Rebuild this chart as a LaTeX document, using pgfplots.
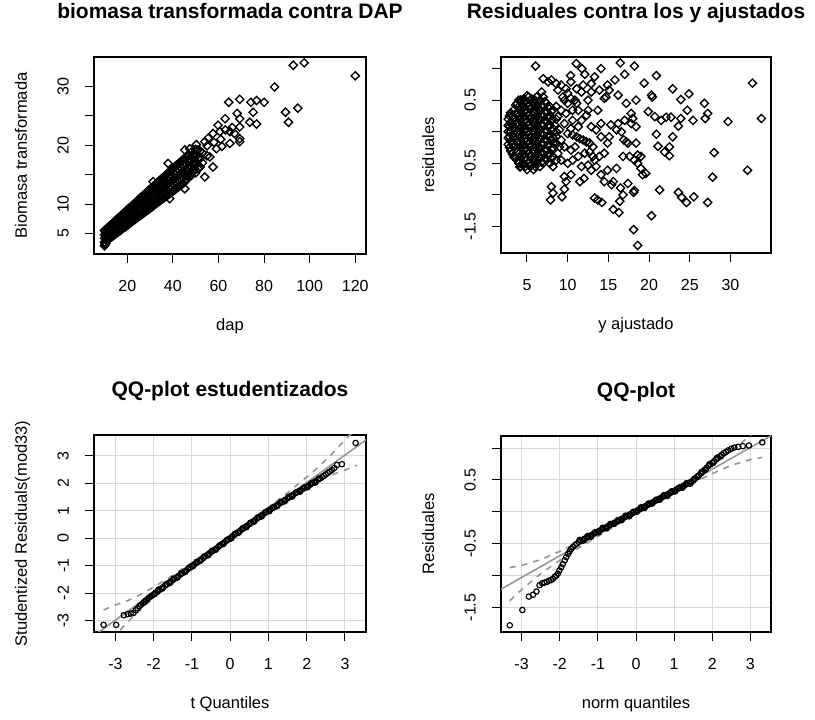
\documentclass[border=0pt]{standalone}
\usepackage{pgfplots}
\pgfplotsset{compat=1.18}
\usepackage{fontspec}
\setmainfont{Liberation Sans}
\definecolor{qqline}{RGB}{150,150,150}
\definecolor{qqgrid}{RGB}{215,215,215}
\pgfplotsset{
  rbase/.style={
    scale only axis,
    axis line style={line width=1.1pt},
    tick align=outside,
    major tick length=9pt,
    tick style={line width=1pt, black},
    xtick pos=bottom, ytick pos=left,
    tick label style={font=\fontsize{16}{18}\selectfont, inner sep=0pt},
    yticklabel style={rotate=90, anchor=south},
    xticklabel style={anchor=north},
    xticklabel shift=17pt,
    yticklabel shift=16pt,
    label style={font=\fontsize{16.5}{19}\selectfont},
    title style={font=\bfseries\fontsize{21}{24}\selectfont, at={([yshift=32pt]axis description cs:0.5,1)}, anchor=base},
    xlabel style={at={([yshift=-77pt]axis description cs:0.5,0)}, anchor=base},
    ylabel style={at={([xshift=-67pt]axis description cs:0,0.5)}, anchor=base},
  },
  dia/.style={only marks, mark=square, mark size=2.9pt, black, mark options={rotate=45, line width=1.35pt}},
  circ/.style={only marks, mark=o, mark size=2.7pt, black, mark options={line width=1.15pt}},
  qqgridstyle/.style={grid=major, grid style={line width=1pt, qqgrid}},
}
\begin{document}
\begin{tikzpicture}
\useasboundingbox (0pt,0pt) rectangle (815pt,720pt);
% ---------------- Panel 1
\begin{axis}[rbase, at={(94pt,466pt)}, anchor=south west, width=272pt, height=197pt,
  xmin=5.4, xmax=124.7, ymin=1.5, ymax=35.0,
  xtick={20,40,60,80,100,120}, xticklabels={20,40,60,80,100,120},
  ytick={5,10,15,20,25,30}, yticklabels={5,10,{},20,{},30},
  title={biomasa transformada contra DAP}, xlabel={dap}, ylabel={Biomasa transformada}]
\addplot[dia] coordinates {
(10,2.9)(10.3,3.1)(10,3.5)(10,4.2)(10,4.8)(10,5.5)
(10.5,3.3)(10.5,3.9)(10.5,4.6)(10.5,5.3)
(11,3.8)(11,4.5)(11,5.1)(11,5.8)
(11.5,3.9)(11.5,4.7)(11.5,5.4)(11.5,6.0)
(12,4.1)(12,4.8)(12,5.5)(12,6.2)
(12.5,4.3)(12.5,5.0)(12.5,5.6)(12.5,6.3)
(13,4.4)(13,5.1)(13,5.8)(13,6.5)
(13.5,4.5)(13.5,5.3)(13.5,6.0)(13.5,6.7)
(14,4.7)(14,5.4)(14,6.1)(14,6.9)
(14.5,4.8)(14.5,5.6)(14.5,6.3)(14.5,7.0)
(15,5.0)(15,5.7)(15,6.5)(15,7.2)
(15.5,5.1)(15.5,5.9)(15.5,6.6)(15.5,7.4)
(16,5.2)(16,6.0)(16,6.8)(16,7.6)
(16.5,5.4)(16.5,6.2)(16.5,7.0)(16.5,7.7)
(17,5.5)(17,6.3)(17,7.1)(17,7.9)
(17.5,5.7)(17.5,6.5)(17.5,7.3)(17.5,8.1)
(18,5.8)(18,6.6)(18,7.5)(18,8.3)
(18.5,6.0)(18.5,6.8)(18.5,7.6)(18.5,8.4)
(19,6.1)(19,6.9)(19,7.8)(19,8.6)
(19.5,6.2)(19.5,7.1)(19.5,7.9)(19.5,8.8)
(20,6.4)(20,7.3)(20,8.1)(20,9.0)
(20.5,6.55)(20.5,7.20)(20.5,7.86)(20.5,8.52)(20.5,9.18)
(21,6.7)(21,7.6)(21,8.5)(21,9.3)
(21.5,6.84)(21.5,7.51)(21.5,8.18)(21.5,8.85)(21.5,9.53)
(22,7.0)(22,7.9)(22,8.8)(22,9.7)
(22.5,7.2)(22.5,8.1)(22.5,9.0)(22.5,9.9)
(23,7.3)(23,8.2)(23,9.1)(23,10.0)
(23.5,7.4)(23.5,8.3)(23.5,9.3)(23.5,10.2)
(24,7.6)(24,8.5)(24,9.5)(24,10.4)
(24.5,7.71)(24.5,8.42)(24.5,9.14)(24.5,9.86)(24.5,10.58)
(25,7.9)(25,8.8)(25,9.8)(25,10.8)
(25.5,8.0)(25.5,8.73)(25.5,9.46)(25.5,10.19)(25.5,10.93)
(26,8.1)(26,9.1)(26,10.1)(26,11.1)
(26.5,8.29)(26.5,9.03)(26.5,9.78)(26.5,10.53)(26.5,11.28)
(27,8.4)(27,9.4)(27,10.4)(27,11.5)
(27.5,8.58)(27.5,9.34)(27.5,10.1)(27.5,10.86)(27.5,11.63)
(28,8.7)(28,9.7)(28,10.8)(28,11.8)
(28.5,8.87)(28.5,9.64)(28.5,10.42)(28.5,11.2)(28.5,11.98)
(29,9.0)(29,10.0)(29,11.1)(29,12.2)
(29.5,9.16)(29.5,9.95)(29.5,10.74)(29.5,11.53)(29.5,12.33)
(30,9.3)(30,10.4)(30,11.4)(30,12.5)
(30.5,9.45)(30.5,10.25)(30.5,11.06)(30.5,11.87)(30.5,12.68)
(31,9.6)(31,10.7)(31,11.8)(31,12.9)(31.3,13.8)
(31.5,9.74)(31.5,10.56)(31.5,11.38)(31.5,12.2)(31.5,13.03)
(32,9.9)(32,11.0)(32,12.1)(32,13.2)
(32.5,10.03)(32.5,10.86)(32.5,11.7)(32.5,12.54)(32.5,13.38)
(33,10.2)(33,11.3)(33,12.4)(33,13.6)
(33.5,10.32)(33.5,11.17)(33.5,12.02)(33.5,12.87)(33.5,13.73)
(34,10.5)(34,11.6)(34,12.8)(34,13.9)
(34.5,10.61)(34.5,11.47)(34.5,12.34)(34.5,13.21)(34.5,14.08)
(35,10.8)(35,11.9)(35,13.1)(35,14.3)
(35.5,10.9)(35.5,11.78)(35.5,12.66)(35.5,13.54)(35.5,14.43)
(36,11.0)(36,12.2)(36,13.4)(36,14.6)
(36.5,11.19)(36.5,12.08)(36.5,12.98)(36.5,13.88)(36.5,14.78)
(37,11.3)(37,12.5)(37,13.7)(37,14.9)
(37.5,11.48)(37.5,12.39)(37.5,13.3)(37.5,14.21)(37.5,15.13)
(38,11.6)(38,12.8)(38,14.1)(38,15.3)(37.9,16.9)(38.6,10.9)
(38.5,11.77)(38.5,12.69)(38.5,13.62)(38.5,14.55)(38.5,15.48)
(39,11.9)(39,13.2)(39,14.4)(39,15.6)
(39.5,12.06)(39.5,13.0)(39.5,13.94)(39.5,14.88)(39.5,15.83)
(40,12.2)(40,13.5)(40,14.7)(40,16.0)
(40.5,12.35)(40.5,13.3)(40.5,14.26)(40.5,15.22)(40.5,16.18)
(41,12.5)(41,13.8)(41,15.1)(41,16.4)
(41.5,12.64)(41.5,13.61)(41.5,14.58)(41.5,15.55)(41.5,16.53)
(42,12.8)(42,14.1)(42,15.4)(42,16.7)
(42.5,12.93)(42.5,13.91)(42.5,14.9)(42.5,15.89)(42.5,16.88)
(43,13.1)(43,14.4)(43,15.7)(43,17.0)
(43.5,13.2)(43.5,14.2)(43.5,15.2)(43.5,16.2)(43.5,17.2)
(44,13.4)(44,14.7)(44,16.0)(44,17.4)
(44.5,13.5)(44.5,14.5)(44.5,15.5)(44.5,16.5)(44.5,17.5)
(45,13.8)(45,15.1)(45,16.4)(45,17.7)(45.2,12.6)(45.2,19.2)
(45.5,13.9)(45.5,14.9)(45.5,15.9)(45.5,16.9)(45.5,17.9)
(46,14.2)(46,15.5)(46,16.8)(46,18.1)
(46.5,14.9)(46.5,16.2)(46.5,17.5)
(47,14.6)(47,15.8)(47,17.1)(47,18.3)(47.4,19.4)
(47.5,15.2)(47.5,16.5)(47.5,17.8)
(48,14.8)(48,16.2)(48,17.5)(48,18.8)
(48.5,15.5)(48.5,16.8)(48.5,18.1)
(49,15.5)(49,16.8)(49,18.2)
(49.5,16.0)(49.5,17.3)(49.5,18.6)
(50,15.3)(50,16.6)(50,18.0)(50,19.3)(50.3,20.1)
(51,16.0)(51,17.8)(51,19.2)
(52,16.3)(52,17.9)(52,19.0)
(53,17.0)(53,18.7)
(55,18.2)(55,19.9)
(51.8,17.7)(54,14.6)(54,20.6)(56.2,18.0)(57.6,16.3)(57.6,22.0)(59.1,19.4)(59.8,23.4)
(60.6,22.3)(62.9,24.5)(64.5,27.3)(65,22.3)(65,20.3)(68.2,25.4)(69.3,27.8)(69.3,24.5)
(69.3,23.1)(69.3,21.1)(69.3,20.6)(73.7,23.9)(74.2,27.3)(75.2,25.6)(76.7,27.6)(76.7,23.6)
(80,27.3)(84.6,29.9)(89.4,25.6)(90.7,23.9)(92.8,33.6)(94.8,26.3)(97.6,34.0)(120,31.8)
(55.5,21.2)(58,20.5)(61,21.0)(63,22.6)(66,23.0)(67,22.0)(61.5,19.8)
};
\end{axis}
% ---------------- Panel 2
\begin{axis}[rbase, at={(501pt,467pt)}, anchor=south west, width=270pt, height=196pt,
  xmin=1.81, xmax=34.98, ymin=-1.92, ymax=1.184,
  xtick={5,10,15,20,25,30}, xticklabels={5,10,15,20,25,30},
  ytick={-1.5,-1,-0.5,0,0.5,1}, yticklabels={-1.5,{},-0.5,{},0.5,{}},
  title={Residuales contra los y ajustados}, xlabel={y ajustado}, ylabel={residuales}]
\addplot[dia] coordinates {
(2.7,-0.2)(2.7,-0.1)(2.7,0.0)(2.7,0.1)(2.7,0.2)
(2.85,-0.25)(2.85,-0.08)(2.85,0.08)(2.85,0.25)
(3.0,-0.3)(3.0,-0.15)(3.0,0.0)(3.0,0.15)(3.0,0.3)
(3.2,-0.35)(3.2,-0.2)(3.2,-0.05)(3.2,0.1)(3.2,0.25)
(3.4,-0.4)(3.4,-0.25)(3.4,-0.1)(3.4,0.05)(3.4,0.2)(3.4,0.35)
(3.6,-0.4)(3.6,-0.22)(3.6,-0.05)(3.6,0.12)(3.6,0.28)(3.6,0.42)
(3.8,-0.45)(3.8,-0.3)(3.8,-0.15)(3.8,0.0)(3.8,0.15)(3.8,0.3)(3.8,0.45)
(4.0,-0.5)(4.0,-0.35)(4.0,-0.2)(4.0,-0.05)(4.0,0.1)(4.0,0.25)(4.0,0.4)(4.0,0.5)
(4.2,-0.55)(4.2,-0.4)(4.2,-0.25)(4.2,-0.1)(4.2,0.05)(4.2,0.2)(4.2,0.35)(4.2,0.5)
(4.4,-0.52)(4.4,-0.38)(4.4,-0.22)(4.4,-0.08)(4.4,0.08)(4.4,0.22)(4.4,0.38)(4.4,0.5)
(4.6,-0.5)(4.6,-0.35)(4.6,-0.2)(4.6,-0.05)(4.6,0.1)(4.6,0.25)(4.6,0.4)(4.6,0.52)
(4.8,-0.55)(4.8,-0.4)(4.8,-0.25)(4.8,-0.1)(4.8,0.05)(4.8,0.2)(4.8,0.35)(4.8,0.5)
(5.0,-0.6)(5.0,-0.45)(5.0,-0.3)(5.0,-0.15)(5.0,0.0)(5.0,0.15)(5.0,0.3)(5.0,0.45)(5.0,0.57)
(5.2,-0.5)(5.2,-0.35)(5.2,-0.2)(5.2,-0.05)(5.2,0.1)(5.2,0.25)(5.2,0.4)(5.2,0.55)
(5.4,-0.55)(5.4,-0.4)(5.4,-0.25)(5.4,-0.1)(5.4,0.05)(5.4,0.2)(5.4,0.35)(5.4,0.5)
(5.6,-0.52)(5.6,-0.38)(5.6,-0.22)(5.6,-0.08)(5.6,0.08)(5.6,0.22)(5.6,0.38)(5.6,0.52)
(5.8,-0.6)(5.8,-0.45)(5.8,-0.3)(5.8,-0.15)(5.8,0.0)(5.8,0.15)(5.8,0.3)(5.8,0.45)
(6.0,-0.55)(6.0,-0.4)(6.0,-0.25)(6.0,-0.1)(6.0,0.05)(6.0,0.2)(6.0,0.35)(6.0,0.5)
(6.2,-0.5)(6.2,-0.35)(6.2,-0.2)(6.2,-0.05)(6.2,0.1)(6.2,0.25)(6.2,0.4)(6.2,0.55)
(6.4,-0.45)(6.4,-0.3)(6.4,-0.15)(6.4,0.0)(6.4,0.15)(6.4,0.3)(6.4,0.45)
(6.6,-0.55)(6.6,-0.4)(6.6,-0.25)(6.6,-0.1)(6.6,0.05)(6.6,0.2)(6.6,0.35)(6.6,0.5)
(6.8,-0.48)(6.8,-0.32)(6.8,-0.18)(6.8,-0.02)(6.8,0.12)(6.8,0.28)(6.8,0.42)
(7.0,-0.5)(7.0,-0.35)(7.0,-0.2)(7.0,-0.05)(7.0,0.1)(7.0,0.25)(7.0,0.4)(7.0,0.55)
(7.2,-0.42)(7.2,-0.28)(7.2,-0.12)(7.2,0.02)(7.2,0.18)(7.2,0.32)(7.2,0.48)
(7.4,-0.45)(7.4,-0.3)(7.4,-0.15)(7.4,0.0)(7.4,0.15)(7.4,0.3)(7.4,0.45)
(7.6,-0.38)(7.6,-0.22)(7.6,-0.08)(7.6,0.08)(7.6,0.22)(7.6,0.38)
(7.8,-0.5)(7.8,-0.35)(7.8,-0.2)(7.8,-0.05)(7.8,0.1)(7.8,0.25)(7.8,0.4)
(8.0,-0.42)(8.0,-0.28)(8.0,-0.12)(8.0,0.02)(8.0,0.18)(8.0,0.32)
(8.2,-0.55)(8.2,-0.4)(8.2,-0.25)(8.2,-0.1)(8.2,0.05)(8.2,0.2)(8.2,0.35)
(8.6,-0.45)(8.6,-0.2)(8.6,0.0)(8.6,0.2)(8.6,0.4)
(6.06,1.04)(11.06,1.08)(11.75,1.0)(16.46,1.09)(18.2,1.04)(14.1,1.0)(12.1,0.91)(13.3,0.87)
(10.36,0.89)(17.0,0.91)(20.9,0.89)(19.4,0.77)(15.8,0.82)(14.9,0.74)(15.1,0.66)(16.2,0.58)
(17.2,0.45)(18.4,0.5)(20.3,0.58)(20.4,0.55)(22.9,0.68)(23.9,0.51)(24.9,0.6)(26.8,0.45)
(32.7,0.77)(33.8,0.21)(29.7,0.16)(27.2,0.29)(26.9,0.21)(25.4,0.18)(24.7,0.34)(23.9,0.21)
(23.6,0.09)(22.7,0.23)(22.1,0.23)(21.5,0.18)(20.7,0.24)(19.9,0.32)(20.9,-0.04)(22.9,-0.08)
(21.1,-0.23)(22.5,-0.24)(21.9,-0.32)(22.5,-0.38)(28.0,-0.33)(27.8,-0.72)(32.1,-0.61)
(21.3,-0.92)(23.6,-0.96)(24.0,-1.04)(24.6,-1.12)(25.5,-1.03)(27.2,-1.12)(20.3,-1.33)
(18.1,-1.55)(18.6,-1.80)(15.6,-1.23)(16.3,-1.28)(16.8,-1.0)(16.4,-1.1)(17.4,-0.82)
(18.2,-0.93)(18.1,-0.96)(16.5,-0.89)(13.3,-1.05)(13.7,-1.08)(14.2,-1.12)(8.0,-0.87)
(8.2,-0.97)(7.9,-1.08)(9.3,-1.03)(9.6,-0.91)(9.8,-0.79)(9.6,-0.71)(10.4,-0.68)(11.5,-0.79)
(12.0,-0.74)(15.4,-0.84)(15.6,-0.79)(14.5,-0.79)(14.1,-0.68)(14.9,-0.61)(16.0,-0.58)
(19.0,-0.58)(19.6,-0.66)(19.2,-0.68)(18.6,-0.5)(19.0,-0.39)(18.6,-0.37)(18.2,-0.45)
(17.6,-0.39)(16.8,-0.39)(17.4,-0.18)(16.9,-0.13)(17.2,-0.16)(18.4,-0.18)(16.6,0.0)
(16.0,0.03)(16.2,0.13)(15.3,0.11)(15.1,-0.08)(14.1,-0.08)(14.9,-0.18)(17.0,0.18)
(17.8,0.29)(18.0,0.21)(18.4,0.08)(17.8,0.13)(12.5,0.34)(13.7,0.34)(14.1,0.13)(13.5,0.03)
(12.9,0.08)(11.7,0.18)(12.3,0.26)(10.6,0.34)(10.9,0.5)(12.5,0.5)(12.9,0.63)(11.7,0.63)
(9.8,0.68)(9.2,0.74)(8.6,0.76)(8.0,0.82)(7.0,0.84)(7.6,0.79)(6.8,0.63)(10.4,0.79)
(10.0,0.61)(9.6,0.5)(11.1,0.68)(11.9,0.74)(12.9,0.76)(13.9,0.66)(14.5,0.53)(14.7,0.55)
(10.0,-0.03)(10.6,-0.05)(11.1,-0.08)(11.5,-0.11)(11.9,-0.13)(12.3,-0.16)(12.7,-0.18)
(13.1,-0.24)(12.7,-0.32)(12.1,-0.34)(11.3,-0.39)(10.6,-0.45)(10.0,-0.5)(9.2,-0.45)
(8.8,-0.34)(9.0,-0.24)(9.2,-0.13)(9.6,-0.24)(10.4,-0.29)(10.9,-0.24)(11.7,-0.55)
(12.5,-0.53)(13.3,-0.45)(13.5,-0.55)(13.9,-0.39)(14.5,-0.34)(12.9,-0.61)(13.1,-0.39)
(8.8,0.66)(9.4,0.55)(10.0,0.45)(10.4,0.53)(11.1,0.45)(11.3,0.34)(9.8,0.29)(9.2,0.34)
(8.8,0.24)(10.6,0.18)(11.3,0.08)(10.4,0.05)(9.6,0.13)(9.0,0.03)(8.4,0.11)(8.6,-0.08)
(8.2,-0.18)(4.14,-0.56)
};
\end{axis}
% ---------------- Panel 3
\begin{axis}[rbase, qqgridstyle, at={(94pt,88pt)}, anchor=south west, width=272pt, height=197pt,
  xmin=-3.56, xmax=3.55, ymin=-3.41, ymax=3.75,
  xtick={-3,-2,-1,0,1,2,3}, xticklabels={-3,-2,-1,0,1,2,3},
  ytick={-3,-2,-1,0,1,2,3}, yticklabels={-3,-2,-1,0,1,2,3},
  title={QQ-plot estudentizados}, xlabel={t Quantiles}, ylabel={Studentized Residuals(mod33)}]
\addplot[circ] coordinates {
(-3.31,-3.15)(-2.98,-3.15)(-2.78,-2.80)(-2.68,-2.76)(-2.60,-2.74)(-2.53,-2.72)(-2.47,-2.62)
(-2.42,-2.55)(-2.37,-2.47)(-2.33,-2.42)(-2.29,-2.37)(-2.25,-2.32)(-2.21,-2.27)(-2.17,-2.22)
(-2.13,-2.17)(-2.09,-2.13)(-2.05,-2.09)(-2.0,-2.04)
(-1.95,-1.98)(-1.9,-1.93)(-1.85,-1.88)(-1.8,-1.83)(-1.75,-1.78)(-1.7,-1.72)(-1.65,-1.67)
(-1.6,-1.62)(-1.55,-1.57)(-1.5,-1.52)(-1.45,-1.47)(-1.4,-1.42)(-1.35,-1.37)(-1.3,-1.32)
(-1.25,-1.27)(-1.2,-1.22)(-1.15,-1.17)(-1.1,-1.12)(-1.05,-1.07)(-1.0,-1.02)(-0.95,-0.97)
(-0.9,-0.92)(-0.85,-0.87)(-0.8,-0.82)(-0.75,-0.77)(-0.7,-0.72)(-0.65,-0.66)(-0.6,-0.61)
(-0.55,-0.56)(-0.5,-0.51)(-0.45,-0.46)(-0.4,-0.41)(-0.35,-0.36)(-0.3,-0.31)(-0.25,-0.25)
(-0.2,-0.2)(-0.15,-0.15)(-0.1,-0.1)(-0.05,-0.05)(0,0.0)(0.05,0.06)(0.1,0.11)(0.15,0.16)
(0.2,0.21)(0.25,0.26)(0.3,0.31)(0.35,0.36)(0.4,0.41)(0.45,0.46)(0.5,0.51)(0.55,0.56)
(0.6,0.61)(0.65,0.66)(0.7,0.71)(0.75,0.76)(0.8,0.81)(0.85,0.86)(0.9,0.91)(0.95,0.96)
(1.0,1.0)(1.05,1.04)(1.1,1.09)(1.15,1.13)(1.2,1.18)(1.25,1.22)(1.3,1.27)(1.35,1.31)
(1.4,1.36)(1.45,1.40)(1.5,1.45)(1.55,1.49)(1.6,1.54)(1.65,1.58)(1.7,1.63)(1.75,1.67)
(1.8,1.71)(1.85,1.75)(1.9,1.79)(1.95,1.83)(2.0,1.87)(2.05,1.91)(2.1,1.95)(2.15,2.0)
(2.2,2.04)(2.25,2.08)(2.3,2.13)(2.35,2.17)(2.4,2.22)(2.45,2.27)(2.5,2.32)(2.55,2.37)
(2.6,2.42)(2.66,2.48)(2.72,2.55)(2.79,2.66)(2.92,2.69)(3.28,3.46)
(-1.975,-2.03)(-1.875,-1.87)(-1.775,-1.83)(-1.675,-1.67)(-1.575,-1.63)(-1.475,-1.47)
(-1.375,-1.43)(-1.275,-1.27)(-1.175,-1.23)(-1.075,-1.07)(-0.975,-1.02)(-0.875,-0.86)
(-0.775,-0.82)(-0.675,-0.66)(-0.575,-0.62)(-0.475,-0.46)(-0.375,-0.42)(-0.275,-0.26)
(-0.175,-0.21)(-0.075,-0.05)(0.025,-0.01)(0.125,0.16)(0.225,0.20)(0.325,0.36)(0.425,0.40)
(0.525,0.56)(0.625,0.60)(0.725,0.76)(0.825,0.79)(0.925,0.95)(1.025,0.98)(1.125,1.13)
(1.225,1.16)(1.325,1.32)(1.425,1.34)(1.525,1.50)(1.625,1.52)(1.725,1.67)(1.825,1.69)
(1.925,1.84)(2.025,1.85)(2.125,2.0)(2.225,2.02)(2.325,2.17)
};
\addplot[qqline, line width=1.6pt] coordinates {(-3.7,-3.68)(3.7,3.72)};
\addplot[qqline, line width=1.6pt, dash pattern=on 6pt off 6pt] coordinates {
(-3.31,-2.61)(-3.0,-2.43)(-2.75,-2.31)(-2.5,-2.16)(-2.25,-1.98)(-2.0,-1.78)(-1.5,-1.35)
(-1.0,-0.88)(-0.5,-0.395)(0,0.10)(0.5,0.605)(1,1.12)(1.5,1.65)(2,2.22)(2.25,2.52)
(2.5,2.84)(2.75,3.19)(3.0,3.57)(3.31,4.01)};
\addplot[qqline, line width=1.6pt, dash pattern=on 6pt off 6pt] coordinates {
(-3.31,-3.97)(-3.0,-3.53)(-2.75,-3.15)(-2.5,-2.80)(-2.25,-2.48)(-2.0,-2.18)(-1.5,-1.61)
(-1.0,-1.08)(-0.5,-0.565)(0,-0.06)(0.5,0.435)(1,0.92)(1.5,1.39)(2,1.82)(2.25,2.02)
(2.5,2.20)(2.75,2.35)(3.0,2.47)(3.31,2.65)};
\end{axis}
% ---------------- Panel 4
\begin{axis}[rbase, qqgridstyle, at={(501pt,88pt)}, anchor=south west, width=270pt, height=196pt,
  xmin=-3.54, xmax=3.54, ymin=-1.885, ymax=1.19,
  xtick={-3,-2,-1,0,1,2,3}, xticklabels={-3,-2,-1,0,1,2,3},
  ytick={-1.5,-1,-0.5,0,0.5,1}, yticklabels={-1.5,{},-0.5,{},0.5,{}},
  title={QQ-plot}, xlabel={norm quantiles}, ylabel={Residuales}]
\addplot[circ] coordinates {
(-3.31,-1.78)(-2.98,-1.54)(-2.81,-1.33)(-2.70,-1.30)(-2.61,-1.25)(-2.53,-1.15)(-2.46,-1.12)
(-2.40,-1.11)(-2.34,-1.10)(-2.28,-1.08)(-2.23,-1.07)(-2.18,-1.05)(-2.13,-1.02)(-2.09,-1.0)
(-2.05,-0.97)(-2.01,-0.92)(-1.96,-0.87)(-1.92,-0.82)(-1.87,-0.76)(-1.83,-0.71)(-1.78,-0.66)
(-1.74,-0.62)(-1.70,-0.58)(-1.65,-0.55)(-1.60,-0.52)(-1.55,-0.50)
(-1.5,-0.47)(-1.45,-0.454)(-1.4,-0.438)(-1.35,-0.422)(-1.3,-0.406)(-1.25,-0.39)(-1.2,-0.374)
(-1.15,-0.358)(-1.1,-0.342)(-1.05,-0.326)(-1.0,-0.31)(-0.95,-0.294)(-0.9,-0.278)(-0.85,-0.262)
(-0.8,-0.246)(-0.75,-0.23)(-0.7,-0.214)(-0.65,-0.198)(-0.6,-0.182)(-0.55,-0.166)(-0.5,-0.15)
(-0.45,-0.134)(-0.4,-0.118)(-0.35,-0.102)(-0.3,-0.086)(-0.25,-0.07)(-0.2,-0.054)(-0.15,-0.038)
(-0.1,-0.022)(-0.05,-0.006)(0,0.01)(0.05,0.026)(0.1,0.042)(0.15,0.058)(0.2,0.074)(0.25,0.09)
(0.3,0.106)(0.35,0.122)(0.4,0.138)(0.45,0.154)(0.5,0.17)(0.55,0.186)(0.6,0.202)(0.65,0.218)
(0.7,0.234)(0.75,0.25)(0.8,0.266)(0.85,0.282)(0.9,0.298)(0.95,0.314)(1.0,0.33)(1.05,0.346)
(1.1,0.362)(1.15,0.378)(1.2,0.394)(1.25,0.41)(1.3,0.426)(1.35,0.442)(1.4,0.458)(1.45,0.474)
(1.5,0.49)(1.55,0.52)(1.6,0.55)(1.65,0.575)(1.7,0.60)(1.75,0.63)(1.8,0.66)(1.85,0.69)
(1.9,0.72)(1.95,0.745)(2.0,0.77)(2.05,0.795)(2.1,0.82)(2.15,0.845)(2.2,0.87)(2.25,0.895)
(2.3,0.92)(2.36,0.94)(2.42,0.965)(2.5,0.99)(2.58,1.01)(2.68,1.02)(2.8,1.03)(2.96,1.04)(3.31,1.09)
(-1.475,-0.44)(-1.375,-0.45)(-1.275,-0.38)(-1.175,-0.39)(-1.075,-0.32)(-0.975,-0.32)
(-0.875,-0.25)(-0.775,-0.26)(-0.675,-0.19)(-0.575,-0.19)(-0.475,-0.13)(-0.375,-0.13)
(-0.275,-0.06)(-0.175,-0.07)(-0.075,0.0)(0.025,0.0)(0.125,0.07)(0.225,0.06)(0.325,0.13)
(0.425,0.13)(0.525,0.19)(0.625,0.19)(0.725,0.26)(0.825,0.25)(0.925,0.32)(1.025,0.32)
(1.125,0.38)(1.225,0.38)(1.325,0.45)(1.425,0.44)(1.525,0.52)(1.625,0.55)(1.725,0.63)
(1.825,0.66)(1.925,0.75)(2.025,0.77)(2.125,0.85)(2.225,0.87)
};
\addplot[qqline, line width=1.6pt] coordinates {(-3.7,-1.268)(3.7,1.248)};
\addplot[qqline, line width=1.6pt, dash pattern=on 6pt off 6pt] coordinates {
(-3.31,-0.875)(-3.0,-0.84)(-2.5,-0.75)(-2.0,-0.62)(-1.5,-0.475)(-1.0,-0.317)(-0.5,-0.153)
(0,0.015)(0.5,0.187)(1,0.363)(1.5,0.545)(2,0.74)(2.5,0.95)(3.0,1.20)(3.31,1.375)};
\addplot[qqline, line width=1.6pt, dash pattern=on 6pt off 6pt] coordinates {
(-3.31,-1.395)(-3.0,-1.22)(-2.5,-0.97)(-2.0,-0.76)(-1.5,-0.565)(-1.0,-0.383)(-0.5,-0.207)
(0,-0.035)(0.5,0.133)(1,0.297)(1.5,0.455)(2,0.60)(2.5,0.73)(3.0,0.82)(3.31,0.855)};
\end{axis}
\end{tikzpicture}
\end{document}
